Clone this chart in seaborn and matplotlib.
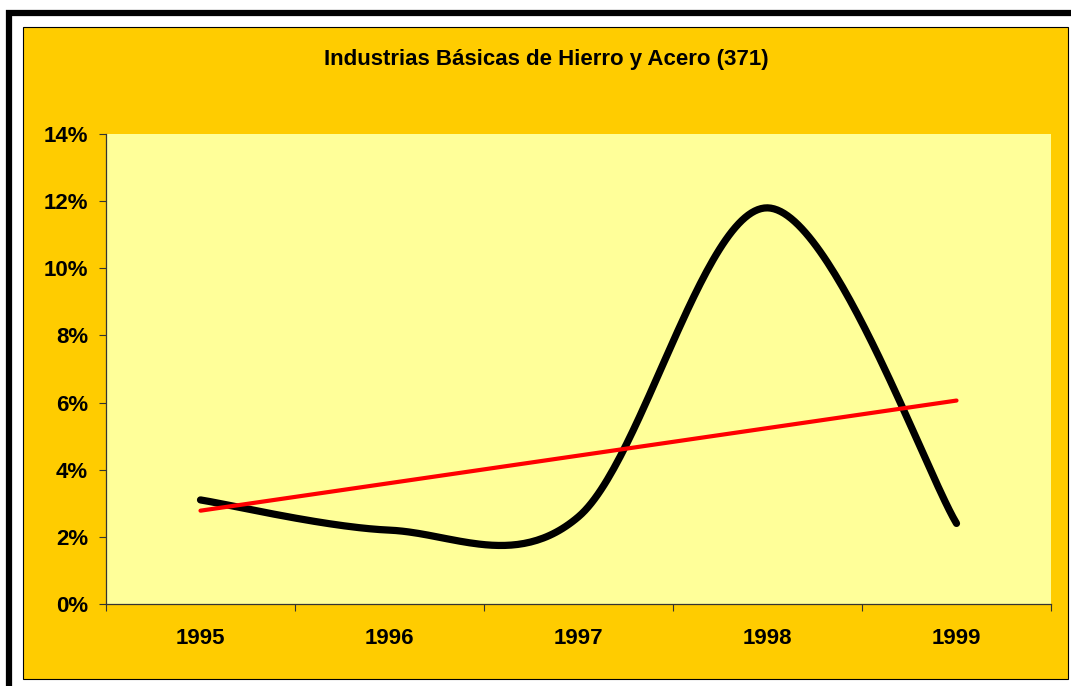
import numpy as np
import pandas as pd
import matplotlib
matplotlib.use("Agg")
import matplotlib.pyplot as plt
from matplotlib.patches import Rectangle
from matplotlib.ticker import FuncFormatter, FixedLocator
import seaborn as sns

years = ["1995", "1996", "1997", "1998", "1999"]
values = [3.1, 2.2, 2.6, 11.8, 2.4]  # percent
title = "Industrias Básicas de Hierro y Acero (371)"

sns.set_style("white")
plt.rcParams["font.family"] = ["Liberation Sans", "DejaVu Sans"]

W, H = 1071, 686
fig = plt.figure(figsize=(W / 100, H / 100), dpi=100)
fig.patch.set_facecolor("white")

def fx(px):
    return px / W

def fy(py):
    return 1 - py / H

# outer thick black frame
fig.patches.append(Rectangle((fx(9), fy(700)), fx(1080) - fx(9), fy(13) - fy(700),
                             transform=fig.transFigure, facecolor="none",
                             edgecolor="black", linewidth=4.5, zorder=-10))
# chart area (gold)
fig.patches.append(Rectangle((fx(22.5), fy(679)), fx(1068) - fx(22.5), fy(26.5) - fy(679),
                             transform=fig.transFigure, facecolor="#FFCC00",
                             edgecolor="black", linewidth=0.8, zorder=-9))

ax = fig.add_axes([fx(106), fy(604), fx(1051) - fx(106), fy(134) - fy(604)])
ax.set_zorder(1)
ax.set_facecolor("#FFFF99")

x = np.arange(len(values), dtype=float)
y = np.array(values, dtype=float)

# smoothed curve (Catmull-Rom / Bezier like Excel smoothing)
def smooth(xv, yv, n=60):
    pts = np.column_stack([xv, yv])
    out = []
    for i in range(len(pts) - 1):
        p0 = pts[i]
        p3 = pts[i + 1]
        prev = pts[i - 1] if i > 0 else pts[i]
        nxt = pts[i + 2] if i + 2 < len(pts) else pts[i + 1]
        c1 = p0 + (p3 - prev) / 6.0
        c2 = p3 - (nxt - p0) / 6.0
        t = np.linspace(0, 1, n)[:, None]
        seg = ((1 - t) ** 3) * p0 + 3 * ((1 - t) ** 2) * t * c1 + 3 * (1 - t) * t ** 2 * c2 + t ** 3 * p3
        out.append(seg if i == 0 else seg[1:])
    return np.vstack(out)

curve = smooth(x, y)
df_curve = pd.DataFrame({"x": curve[:, 0], "y": curve[:, 1]})
sns.lineplot(data=df_curve, x="x", y="y", sort=False, color="black",
             linewidth=5.2, ax=ax, solid_capstyle="round", zorder=3)

df = pd.DataFrame({"x": x, "y": y})
sns.regplot(data=df, x="x", y="y", ci=None, scatter=False, truncate=True,
            color="#FF0000", line_kws={"linewidth": 3.0, "zorder": 4}, ax=ax)

ax.set_xlim(-0.5, len(values) - 0.5)
ax.set_ylim(0, 14)
ax.set_xlabel("")
ax.set_ylabel("")

ax.yaxis.set_major_locator(FixedLocator(np.arange(0, 15, 2)))
ax.yaxis.set_major_formatter(FuncFormatter(lambda v, p: f"{int(round(v))}%"))

ax.xaxis.set_major_locator(FixedLocator(np.arange(-0.5, len(values), 1.0)))
ax.xaxis.set_major_formatter(FuncFormatter(lambda v, p: ""))
ax.set_xticks(x, minor=True)
ax.set_xticklabels(years, minor=True)

ax.tick_params(axis="y", which="major", direction="out", length=5, width=0.8,
               color="#333333", labelsize=16, labelcolor="black", pad=8, left=True)
ax.tick_params(axis="x", which="major", direction="out", length=5, width=0.8,
               color="#333333", bottom=True)
ax.tick_params(axis="x", which="minor", length=0, labelsize=16,
               labelcolor="black", pad=17)
for lab in ax.get_yticklabels() + ax.get_xticklabels(minor=True):
    lab.set_fontweight("bold")

for s in ["top", "right"]:
    ax.spines[s].set_visible(False)
for s in ["left", "bottom"]:
    ax.spines[s].set_visible(True)
    ax.spines[s].set_color("#333333")
    ax.spines[s].set_linewidth(0.9)

fig.text(fx(546), fy(60), title, ha="center", va="center",
         fontsize=16, fontweight="bold", color="black")

fig.savefig("out.png", dpi=100, facecolor=fig.get_facecolor())
